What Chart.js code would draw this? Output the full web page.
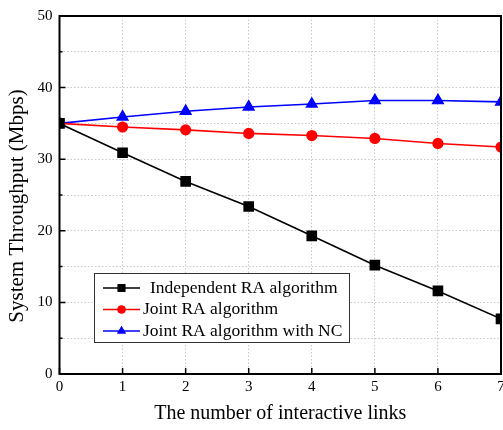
<!DOCTYPE html>
<html>
<head>
<meta charset="utf-8">
<script src="https://cdn.jsdelivr.net/npm/chart.js@4/dist/chart.umd.min.js"></script>
<style>
  body { margin: 0; background: #fff; }
</style>
</head>
<body>
<canvas id="chart1" width="503" height="430"></canvas>
<script>
const links = [0, 1, 2, 3, 4, 5, 6, 7];
const independentRA = [35, 30.9, 26.9, 23.4, 19.3, 15.2, 11.6, 7.7];
const jointRA = [35, 34.5, 34.1, 33.6, 33.3, 32.9, 32.2, 31.7];
const jointRANC = [35, 35.9, 36.7, 37.3, 37.7, 38.2, 38.2, 38.0];
const yTitle = 'System Throughput (Mbps)';

const serif = "'Liberation Serif', 'Times New Roman', serif";

// frame, inward ticks, y title and legend box drawn on top
const framePlugin = {
    id: 'frame',
    afterDraw(chart) {
        const ctx = chart.ctx;
        const a = chart.chartArea;
        const xs = chart.scales.x, ys = chart.scales.y;
        ctx.save();
        ctx.strokeStyle = '#000';
        ctx.lineWidth = 2;
        ctx.strokeRect(a.left, a.top, a.right - a.left, a.bottom - a.top);
        ctx.lineWidth = 1.5;
        ctx.beginPath();
        for (let v = 0; v <= 50; v += 5) {
            const y = ys.getPixelForValue(v);
            const len = v % 10 === 0 ? 6 : 3;
            ctx.moveTo(a.left, y); ctx.lineTo(a.left + len, y);
        }
        for (let v = 0; v <= 7; v++) {
            const x = xs.getPixelForValue(v);
            ctx.moveTo(x, a.bottom); ctx.lineTo(x, a.bottom - 6);
        }
        ctx.stroke();

        // y axis title
        ctx.save();
        ctx.translate(22.5, 206);
        ctx.rotate(-Math.PI / 2);
        ctx.fillStyle = '#000';
        ctx.font = '21px ' + serif;
        ctx.textAlign = 'center';
        ctx.textBaseline = 'alphabetic';
        ctx.fillText(yTitle, 0, 0);
        ctx.restore();

        // legend
        const bx = 94, by = 273, bw = 255, bh = 69;
        ctx.fillStyle = '#fff';
        ctx.fillRect(bx, by, bw, bh);
        ctx.strokeStyle = '#333';
        ctx.lineWidth = 1;
        ctx.strokeRect(bx + 0.5, by + 0.5, bw, bh);
        const rows = [288, 309.5, 331];
        chart.data.datasets.forEach((ds, i) => {
            const y = rows[i];
            ctx.strokeStyle = ds.borderColor;
            ctx.lineWidth = 1.6;
            ctx.beginPath();
            ctx.moveTo(103, y); ctx.lineTo(140, y);
            ctx.stroke();
            ctx.fillStyle = ds.backgroundColor;
            Chart.helpers.drawPoint(ctx, {
                pointStyle: ds.pointStyle, radius: ds.pointRadius * 0.85, borderWidth: 0, rotation: 0
            }, 121.5, y);
            ctx.fill();
            ctx.fillStyle = '#000';
            ctx.font = '17.5px ' + serif;
            ctx.textBaseline = 'middle';
            ctx.textAlign = 'left';
            ctx.fillText(ds.label, i === 0 ? 150 : 143, y);
        });
        ctx.restore();
    }
};

new Chart(document.getElementById('chart1'), {
    type: 'line',
    data: {
        labels: links,
        datasets: [
            {
                label: 'Independent RA algorithm',
                data: independentRA,
                borderColor: '#000',
                backgroundColor: '#000',
                pointStyle: 'rect',
                pointRadius: 6.4,
                borderWidth: 1.6
            },
            {
                label: 'Joint RA algorithm',
                data: jointRA,
                borderColor: '#ff0000',
                backgroundColor: '#ff0000',
                pointStyle: 'circle',
                pointRadius: 4.8,
                borderWidth: 1.6
            },
            {
                label: 'Joint RA algorithm with NC',
                data: jointRANC,
                borderColor: '#0000ff',
                backgroundColor: '#0000ff',
                pointStyle: 'triangle',
                pointRadius: 6,
                borderWidth: 1.6
            }
        ]
    },
    options: {
        responsive: false,
        animation: false,
        layout: { autoPadding: false, padding: { top: 14.5, right: 2 } },
        plugins: {
            legend: { display: false },
            tooltip: { enabled: false }
        },
        elements: { point: { borderWidth: 0 }, line: { tension: 0 } },
        scales: {
            x: {
                type: 'linear',
                min: 0, max: 7,
                ticks: {
                    stepSize: 1, color: '#000', padding: 4,
                    font: { family: serif, size: 15 }
                },
                grid: { color: '#c8c8c8', drawTicks: false, lineWidth: 1 },
                border: { display: false, dash: [1.5, 2] },
                title: {
                    display: true, text: 'The number of interactive links', color: '#000',
                    font: { family: serif, size: 20 }, padding: { top: 13 }
                },
                afterFit: s => { s.height = 56; s.paddingRight = 0; s.paddingLeft = 0; }
            },
            y: {
                min: 0, max: 50,
                ticks: {
                    stepSize: 5, color: '#000', padding: 7,
                    font: { family: serif, size: 15 },
                    callback: v => (v % 10 === 0 ? v : '')
                },
                grid: { color: '#c8c8c8', drawTicks: false, lineWidth: 1 },
                border: { display: false, dash: [1.5, 2] },
                afterFit: s => { s.width = 59.5; }
            }
        }
    },
    plugins: [framePlugin]
});
</script>
</body>
</html>
